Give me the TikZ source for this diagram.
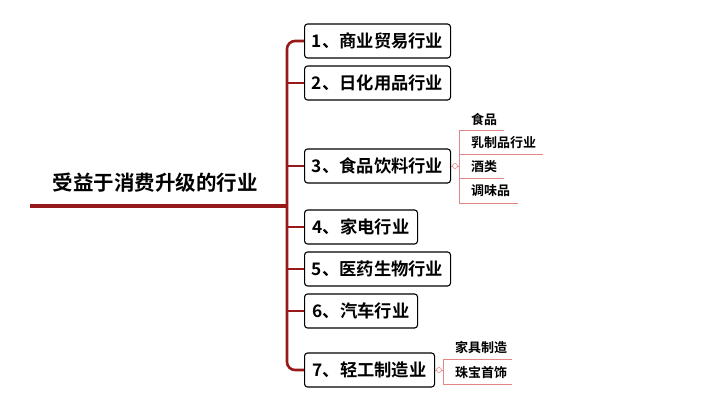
\documentclass[tikz,border=0pt]{standalone}
\usepackage{fontspec}
\newfontfamily\cjk{Noto Sans CJK SC Bold}
\begin{document}
\begin{tikzpicture}[x=1pt,y=-1pt,
  trunkc/.style={draw=red!55!black!90, line width=2.6pt},
  branch/.style={draw=red!55!black!90, line width=1.1pt, rounded corners=6pt},
  sub/.style={draw=red!30!pink!80!gray, line width=0.8pt},
  topic/.style={draw=black, line width=1.1pt, rounded corners=3pt, minimum height=34pt, anchor=west, inner xsep=0pt, font=\cjk\fontsize{17.3}{19}\selectfont},
  subtxt/.style={anchor=west, inner sep=0pt, font=\cjk\fontsize{13}{15}\selectfont},
  knob/.style={circle, draw=red!30!pink!80!gray, line width=0.6pt, inner sep=0pt, minimum size=5pt, fill=white}]
\useasboundingbox (0,0) rectangle (720,401);
% main topic
\node[font=\cjk\fontsize{20.5}{23}\selectfont] (main) at (155,183) {受益于消费升级的行业};
\coordinate (ml) at (30,206);
\coordinate (mr) at (287,206);
\draw[trunkc, line width=3.2pt] (ml) -- (mr);
% topics
\node[topic, minimum width=146pt] (t1) at (304,41) {1、商业贸易行业};
\node[topic, minimum width=146pt] (t2) at (304,83) {2、日化用品行业};
\node[topic, minimum width=146pt] (t3) at (304,166) {3、食品饮料行业};
\node[topic, minimum width=113pt] (t4) at (304,227) {4、家电行业};
\node[topic, minimum width=146pt] (t5) at (304,269) {5、医药生物行业};
\node[topic, minimum width=113pt] (t6) at (304,311) {6、汽车行业};
\node[topic, minimum width=130pt] (t7) at (304,370) {7、轻工制造业};
% trunk
\draw[trunkc, rounded corners=8pt] (t1.west) -- (287,41) -- (287,370) -- (t7.west);
\foreach \t in {t2,t3,t4,t5,t6}{
  \draw[branch] (mr |- \t.west) -- (\t.west);
}
% sub topics of 3
\node[subtxt] (s1) at (471,119) {食品};
\node[subtxt] (s2) at (471,143) {乳制品行业};
\node[subtxt] (s3) at (471,167) {酒类};
\node[subtxt] (s4) at (471,191) {调味品};
\coordinate (u1) at (504,130);
\coordinate (u2) at (543,154);
\coordinate (u3) at (504,178);
\coordinate (u4) at (518,203);
\draw[sub] (t3.east) -- (459,166);
\draw[sub] (u1) -- (459,130) -- (459,203) -- (u4);
\draw[sub] (459,154) -- (u2);
\draw[sub] (459,178) -- (u3);
\node[knob] (k3) at (455,166) {};
% sub topics of 7
\node[subtxt] (s5) at (455,347) {家具制造};
\node[subtxt] (s6) at (455,372) {珠宝首饰};
\coordinate (u5) at (512,359);
\coordinate (u6) at (512,384);
\draw[sub] (t7.east) -- (443,370);
\draw[sub] (u5) -- (443,359) -- (443,384) -- (u6);
\node[knob] (k7) at (439,370) {};
\end{tikzpicture}
\end{document}
